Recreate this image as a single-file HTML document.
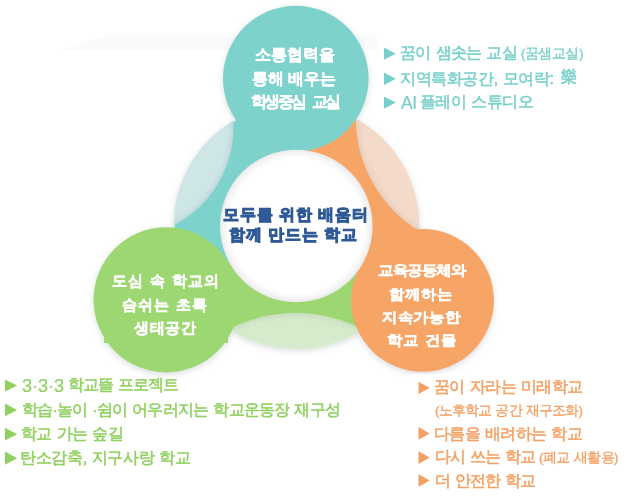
<!DOCTYPE html>
<html><head><meta charset="utf-8">
<style>
html,body{margin:0;padding:0;background:#fff;}
body{width:624px;height:496px;position:relative;overflow:hidden;font-family:"Liberation Sans",sans-serif;}
svg{position:absolute;left:0;top:0;}
.t{position:absolute;white-space:nowrap;font-weight:bold;line-height:1;will-change:transform;}
</style></head><body>
<svg width="624" height="496" viewBox="0 0 624 496">
<defs>
 <filter id="sh" x="-10%" y="-10%" width="120%" height="120%">
  <feGaussianBlur in="SourceAlpha" stdDeviation="3"/>
  <feOffset dx="0" dy="2" result="b"/>
  <feFlood flood-color="#80848c" flood-opacity="0.28"/>
  <feComposite in2="b" operator="in"/>
  <feMerge><feMergeNode/><feMergeNode in="SourceGraphic"/></feMerge>
 </filter>
 <filter id="blur3" x="-20%" y="-20%" width="140%" height="140%"><feGaussianBlur stdDeviation="2.5"/></filter>
 <radialGradient id="wg" cx="0.5" cy="0.5" r="0.5">
  <stop offset="0.88" stop-color="#ffffff"/>
  <stop offset="0.97" stop-color="#f2f2f2"/>
  <stop offset="1" stop-color="#e8e8e8"/>
 </radialGradient>
 <clipPath id="cL"><path d="M173.50,225.30 A122.9,122.9 0 0 1 233.19,120.70 A109.8,109.8 0 0 1 173.50,225.30 Z"/></clipPath>
 <clipPath id="cB"><path d="M362.94,329.43 A122.9,122.9 0 0 1 229.33,329.08 A145.4,145.4 0 0 1 362.94,329.43 Z"/></clipPath>
 <clipPath id="cR"><path d="M355.70,118.45 A122.9,122.9 0 0 1 419.20,231.01 A133.2,133.2 0 0 1 355.70,118.45 Z"/></clipPath>
</defs>
<polygon points="60,50 110,35 377,35 377,50" fill="#f9fbfb"/>
<g filter="url(#sh)">
<path d="M296.4,226.1 L296.40,104.40 A121.7,121.7 0 0 0 191.00,286.95 Z" fill="#7dd3cc"/>
<path d="M296.4,226.1 L191.00,286.95 A121.7,121.7 0 0 0 401.80,286.95 Z" fill="#9dd772"/>
<path d="M296.4,226.1 L401.80,286.95 A121.7,121.7 0 0 0 296.40,104.40 Z" fill="#f6a566"/>
<path d="M173.50,225.30 A122.9,122.9 0 0 1 233.19,120.70 A109.8,109.8 0 0 1 173.50,225.30 Z" fill="#cfe6e6"/>
<path d="M362.94,329.43 A122.9,122.9 0 0 1 229.33,329.08 A145.4,145.4 0 0 1 362.94,329.43 Z" fill="#d6ebcc"/>
<path d="M355.70,118.45 A122.9,122.9 0 0 1 419.20,231.01 A133.2,133.2 0 0 1 355.70,118.45 Z" fill="#f3dac9"/>
<g clip-path="url(#cL)"><path d="M233.19,120.70 A109.8,109.8 0 0 1 173.50,225.30" fill="none" stroke="#8fa9a9" stroke-width="3" filter="url(#blur3)" opacity="0.45"/></g>
<g clip-path="url(#cB)"><path d="M229.33,329.08 A145.4,145.4 0 0 1 362.94,329.43" fill="none" stroke="#9cb393" stroke-width="3" filter="url(#blur3)" opacity="0.45"/></g>
<g clip-path="url(#cR)"><path d="M419.20,231.01 A133.2,133.2 0 0 1 355.70,118.45" fill="none" stroke="#c2a593" stroke-width="3" filter="url(#blur3)" opacity="0.45"/></g>
<circle cx="295.8" cy="78.6" r="72.8" fill="#7dd3cc"/>
<circle cx="422.5" cy="300.4" r="71.4" fill="#f6a566"/>
<g fill="#9dd772"><circle cx="166.2" cy="299.8" r="72.6"/><rect x="104" y="337" width="124" height="6"/></g>
</g>
<circle cx="296.3" cy="226" r="76.3" fill="url(#wg)"/>
</svg>
<div style="position:absolute;left:377px;top:35px;width:247px;height:85px;background:#fff"></div>
<div style="position:absolute;left:411px;top:374px;width:213px;height:122px;background:#fff"></div>
<svg width="624" height="496" style="position:absolute;left:0;top:0">
<g fill="#78d0ca"><polygon points="384,47.6 395.8,53.7 384,59.7"/><polygon points="384,72.5 395.8,78.7 384,84.9"/><polygon points="384,96.4 395.8,102.6 384,108.8"/></g>
<g fill="#8fd05e"><polygon points="5,379.4 17.1,385.45 5,391.5"/><polygon points="5,403.6 17.1,409.95 5,416.3"/><polygon points="5,427.8 17.1,434.15 5,440.5"/><polygon points="5,451.6 17.1,458.15 5,464.7"/></g>
<g fill="#f4a062"><polygon points="418.5,381.8 429.8,387.85 418.5,393.9"/><polygon points="418.5,427 429.8,433.4 418.5,439.8"/><polygon points="418.5,451.2 429.8,457.6 418.5,464"/><polygon points="418.5,474.2 429.8,480.5 418.5,486.8"/></g>
</svg>

<div class="t" style="left:254.9px;top:47.15px;font-size:15.5px;letter-spacing:-0.0px;word-spacing:0px;color:#ffffff;font-weight:bold;-webkit-text-stroke:0.45px #ffffff;transform:scaleX(1);transform-origin:0 0">소통협력을</div>
<div class="t" style="left:252.4px;top:70.95px;font-size:15.5px;letter-spacing:-0.2px;word-spacing:0.7px;color:#ffffff;font-weight:bold;-webkit-text-stroke:0.45px #ffffff;transform:scaleX(1);transform-origin:0 0">통해 배우는</div>
<div class="t" style="left:251.3px;top:94.45px;font-size:15.5px;letter-spacing:-2.51px;word-spacing:5px;color:#ffffff;font-weight:bold;-webkit-text-stroke:0.45px #ffffff;transform:scaleX(1);transform-origin:0 0">학생중심 교실</div>
<div class="t" style="left:111.8px;top:273.9px;font-size:14.5px;letter-spacing:1.13px;word-spacing:0.5px;color:#ffffff;font-weight:bold;-webkit-text-stroke:0.45px #ffffff;transform:scaleX(1);transform-origin:0 0">도심 속 학교의</div>
<div class="t" style="left:122.2px;top:297.9px;font-size:14.5px;letter-spacing:1.0px;word-spacing:0.5px;color:#ffffff;font-weight:bold;-webkit-text-stroke:0.45px #ffffff;transform:scaleX(1);transform-origin:0 0">숨쉬는 초록</div>
<div class="t" style="left:134.2px;top:321.0px;font-size:14.5px;letter-spacing:0.67px;word-spacing:0px;color:#ffffff;font-weight:bold;-webkit-text-stroke:0.45px #ffffff;transform:scaleX(1);transform-origin:0 0">생태공간</div>
<div class="t" style="left:378.3px;top:263.25px;font-size:14px;letter-spacing:-0.73px;word-spacing:0px;color:#ffffff;font-weight:bold;-webkit-text-stroke:0.45px #ffffff;transform:scaleX(1.1);transform-origin:0 0">교육공동체와</div>
<div class="t" style="left:389.45px;top:286.95px;font-size:14px;letter-spacing:0.45px;word-spacing:0px;color:#ffffff;font-weight:bold;-webkit-text-stroke:0.45px #ffffff;transform:scaleX(1.1);transform-origin:0 0">함께하는</div>
<div class="t" style="left:382.1px;top:310.1px;font-size:14px;letter-spacing:0.25px;word-spacing:0px;color:#ffffff;font-weight:bold;-webkit-text-stroke:0.45px #ffffff;transform:scaleX(1.1);transform-origin:0 0">지속가능한</div>
<div class="t" style="left:386.6px;top:332.9px;font-size:14px;letter-spacing:0.68px;word-spacing:0.5px;color:#ffffff;font-weight:bold;-webkit-text-stroke:0.45px #ffffff;transform:scaleX(1.1);transform-origin:0 0">학교 건물</div>
<div class="t" style="left:223.25px;top:207.35px;font-size:15.5px;letter-spacing:0.82px;word-spacing:0.5px;color:#2f5a96;font-weight:bold;-webkit-text-stroke:1.0px #2f5a96;transform:scaleX(1);transform-origin:0 0">모두를 위한 배움터</div>
<div class="t" style="left:229.25px;top:226.5px;font-size:15.5px;letter-spacing:0.81px;word-spacing:0.5px;color:#2f5a96;font-weight:bold;-webkit-text-stroke:1.0px #2f5a96;transform:scaleX(1);transform-origin:0 0">함께 만드는 학교</div>
<div class="t" style="left:400.05px;top:45.1px;font-size:16px;letter-spacing:-0.69px;word-spacing:1.19px;color:#78d0ca;font-weight:normal;-webkit-text-stroke:0.5px #78d0ca;transform:scaleX(1);transform-origin:0 0">꿈이 샘솟는 교실</div>
<div class="t" style="left:520.65px;top:47.4px;font-size:13.5px;letter-spacing:-0.5px;word-spacing:0px;color:#78d0ca;font-weight:normal;-webkit-text-stroke:0.3px #78d0ca;transform:scaleX(1);transform-origin:0 0">(꿈샘교실)</div>
<div class="t" style="left:400.2px;top:70.5px;font-size:16px;letter-spacing:-0.38px;word-spacing:0.88px;color:#78d0ca;font-weight:normal;-webkit-text-stroke:0.5px #78d0ca;transform:scaleX(1);transform-origin:0 0">지역특화공간, 모여락:</div>
<div class="t" style="left:560.95px;top:69.2px;font-size:16px;letter-spacing:0px;word-spacing:0px;color:#78d0ca;font-weight:normal;-webkit-text-stroke:0.5px #78d0ca;transform:scaleX(1);transform-origin:0 0">樂</div>
<div class="t" style="left:400.75px;top:94.9px;font-size:17.5px;letter-spacing:-0.5px;word-spacing:0px;color:#78d0ca;font-weight:normal;-webkit-text-stroke:0.2px #78d0ca;transform:scaleX(1);transform-origin:0 0">AI</div>
<div class="t" style="left:419.8px;top:94.25px;font-size:16px;letter-spacing:-0.57px;word-spacing:1.07px;color:#78d0ca;font-weight:normal;-webkit-text-stroke:0.5px #78d0ca;transform:scaleX(1);transform-origin:0 0">플레이 스튜디오</div>
<div class="t" style="left:21.5px;top:376.8px;font-size:18px;letter-spacing:0.0px;word-spacing:0px;color:#8fd05e;font-weight:normal;-webkit-text-stroke:0.2px #8fd05e;transform:scaleX(1);transform-origin:0 0">3·3·3</div>
<div class="t" style="left:67.55px;top:377.15px;font-size:15.5px;letter-spacing:-0.94px;word-spacing:1.44px;color:#8fd05e;font-weight:normal;-webkit-text-stroke:0.5px #8fd05e;transform:scaleX(1);transform-origin:0 0">학교뜰 프로젝트</div>
<div class="t" style="left:21.75px;top:401.6px;font-size:15.5px;letter-spacing:-0.73px;word-spacing:1.23px;color:#8fd05e;font-weight:normal;-webkit-text-stroke:0.5px #8fd05e;transform:scaleX(1);transform-origin:0 0">학습·놀이 ·쉼이 어우러지는 학교운동장 재구성</div>
<div class="t" style="left:20.5px;top:425.7px;font-size:15.5px;letter-spacing:-0.57px;word-spacing:1.07px;color:#8fd05e;font-weight:normal;-webkit-text-stroke:0.5px #8fd05e;transform:scaleX(1);transform-origin:0 0">학교 가는 숲길</div>
<div class="t" style="left:19.75px;top:449.7px;font-size:15.5px;letter-spacing:-0.3px;word-spacing:0.8px;color:#8fd05e;font-weight:normal;-webkit-text-stroke:0.5px #8fd05e;transform:scaleX(1);transform-origin:0 0">탄소감축, 지구사랑 학교</div>
<div class="t" style="left:434.05px;top:378.8px;font-size:15.5px;letter-spacing:-0.55px;word-spacing:1.05px;color:#f4a062;font-weight:normal;-webkit-text-stroke:0.5px #f4a062;transform:scaleX(1);transform-origin:0 0">꿈이 자라는 미래학교</div>
<div class="t" style="left:435.4px;top:403.75px;font-size:13.5px;letter-spacing:-0.86px;word-spacing:1.36px;color:#f4a062;font-weight:normal;-webkit-text-stroke:0.3px #f4a062;transform:scaleX(1);transform-origin:0 0">(노후학교 공간 재구조화)</div>
<div class="t" style="left:434.3px;top:425.75px;font-size:15.5px;letter-spacing:-0.6px;word-spacing:1.1px;color:#f4a062;font-weight:normal;-webkit-text-stroke:0.5px #f4a062;transform:scaleX(1);transform-origin:0 0">다름을 배려하는 학교</div>
<div class="t" style="left:434.7px;top:449.15px;font-size:15.5px;letter-spacing:-0.86px;word-spacing:1.36px;color:#f4a062;font-weight:normal;-webkit-text-stroke:0.5px #f4a062;transform:scaleX(1);transform-origin:0 0">다시 쓰는 학교</div>
<div class="t" style="left:539.45px;top:450.9px;font-size:13.5px;letter-spacing:-0.63px;word-spacing:1.13px;color:#f4a062;font-weight:normal;-webkit-text-stroke:0.3px #f4a062;transform:scaleX(1);transform-origin:0 0">(폐교 새활용)</div>
<div class="t" style="left:434.7px;top:472.95px;font-size:15.5px;letter-spacing:-0.86px;word-spacing:1.36px;color:#f4a062;font-weight:normal;-webkit-text-stroke:0.5px #f4a062;transform:scaleX(1);transform-origin:0 0">더 안전한 학교</div>
</body></html>
